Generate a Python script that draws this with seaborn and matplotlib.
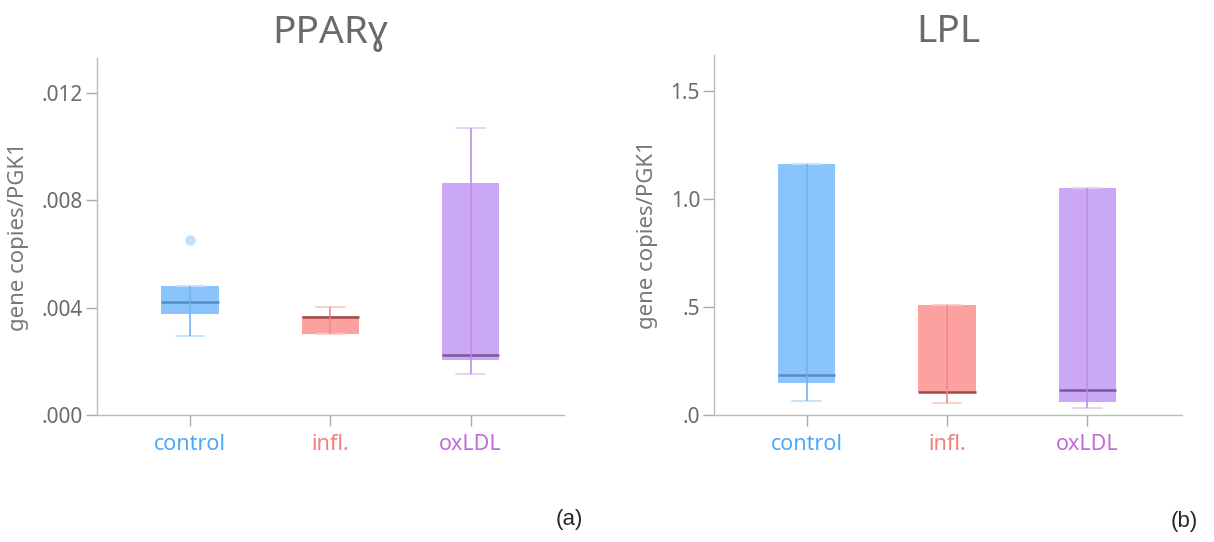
import numpy as np
import pandas as pd
import matplotlib
matplotlib.use('Agg')
import matplotlib.pyplot as plt
import seaborn as sns

# groups shown on both panels
categories = ['control', 'infl.', 'oxLDL']

ppar_control = [0.00293, 0.00330, 0.00375, 0.00400, 0.00422, 0.00455, 0.00480, 0.00480, 0.00651]
ppar_infl = [0.00303, 0.00303, 0.00365, 0.00370, 0.00403]
ppar_oxldl = [0.00151, 0.00205, 0.00222, 0.00866, 0.01068]

# LPL values
lpl_control = [0.066, 0.147, 0.185, 1.160, 1.160]
lpl_infl = [0.057, 0.106, 0.106, 0.507, 0.507]
lpl_oxldl = [0.031, 0.060, 0.117, 1.050, 1.050]

ppar_ticks = [0.0, 0.004, 0.008, 0.012]
ppar_ticklabels = ['.000', '.004', '.008', '.012']
lpl_ticks = [0.0, 0.5, 1.0, 1.5]
lpl_ticklabels = ['.0', '.5', '1.0', '1.5']

fill_colors = ['#8AC4FD', '#FCA0A0', '#CAA8F6']
inner_colors = ['#6CAEF0', '#EE8484', '#B68AEA']
whisker_colors = ['#C2E0FC', '#FCCACA', '#E2CEFA']
median_colors = ['#5A8CBE', '#9C4E4E', '#7A5898']
label_colors = ['#4DA8FA', '#F47F7F', '#C26CD8']

sns.set_style('ticks')
plt.rcParams['font.family'] = ['Noto Sans', 'DejaVu Sans']


def make_frame(groups):
    rows = []
    for cat, vals in zip(categories, groups):
        for v in vals:
            rows.append({'group': cat, 'value': v})
    return pd.DataFrame(rows)


def draw_panel(ax, groups, title, ticks, ticklabels, ymax, xlim, title_pad):
    df = make_frame(groups)
    for i, cat in enumerate(categories):
        sub = df[df.group == cat]
        sns.boxplot(data=sub, x='group', y='value', order=categories, ax=ax,
                    color=fill_colors[i], saturation=1, width=0.41, whis=1.5,
                    boxprops=dict(facecolor=fill_colors[i], edgecolor=fill_colors[i], linewidth=0),
                    whiskerprops=dict(color=whisker_colors[i], linewidth=1.3),
                    capprops=dict(color=whisker_colors[i], linewidth=1.3),
                    medianprops=dict(color=median_colors[i], linewidth=1.8),
                    flierprops=dict(marker='o', markersize=6.5, markerfacecolor=whisker_colors[i],
                                    markeredgecolor=whisker_colors[i]))
        # whisker line continuing through the box
        vals = np.array(groups[i])
        q1, q3 = np.percentile(vals, [25, 75])
        iqr = q3 - q1
        lo = vals[vals >= q1 - 1.5 * iqr].min()
        hi = vals[vals <= q3 + 1.5 * iqr].max()
        ax.vlines(i, lo, hi, color=inner_colors[i], linewidth=1.2, alpha=0.8, zorder=5)

    ax.set_xlim(*xlim)
    ax.set_ylim(0, ymax)
    ax.set_yticks(ticks)
    ax.set_yticklabels(ticklabels)
    ax.set_xlabel('')
    ax.set_ylabel('gene copies/PGK1', fontsize=16, color='#777777', labelpad=9)
    ax.set_title(title, fontsize=28, color='#6A6A6A', pad=title_pad)
    ax.tick_params(axis='y', labelsize=15, labelcolor='#6A6A6A', color='#AAAAAA', length=8, width=1, pad=2)
    ax.tick_params(axis='x', labelsize=15.5, color='#AAAAAA', length=8, width=1, pad=6)
    for lab, c in zip(ax.get_xticklabels(), label_colors):
        lab.set_color(c)
    sns.despine(ax=ax)
    for side in ['left', 'bottom']:
        ax.spines[side].set_color('#BBBBBB')
        ax.spines[side].set_linewidth(1)


fig = plt.figure(figsize=(12.14, 5.42), dpi=100)
W, H = 1214, 542
ax1 = fig.add_axes([97 / W, 1 - 415 / H, (564 - 97) / W, (415 - 58) / H])
ax2 = fig.add_axes([714 / W, 1 - 415 / H, (1182 - 714) / W, (415 - 55) / H])

draw_panel(ax1, [ppar_control, ppar_infl, ppar_oxldl], 'PPARɣ', ppar_ticks, ppar_ticklabels,
           0.0133, (-0.663, 2.666), 11)
draw_panel(ax2, [lpl_control, lpl_infl, lpl_oxldl], 'LPL', lpl_ticks, lpl_ticklabels,
           1.665, (-0.661, 2.675), 9)

fig.text(569 / W, 1 - 520 / H, '(a)', fontsize=16, family='Liberation Sans', ha='center', va='center')
fig.text(1184 / W, 1 - 522 / H, '(b)', fontsize=16, family='Liberation Sans', ha='center', va='center')

fig.savefig('out.png', dpi=100)
